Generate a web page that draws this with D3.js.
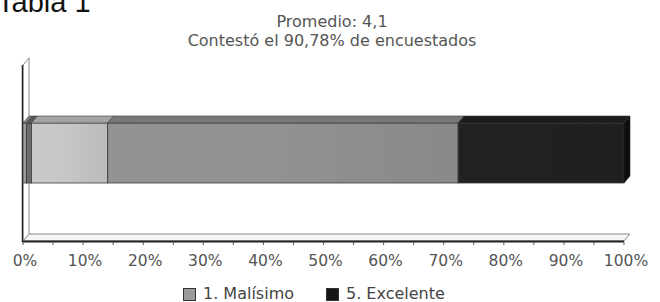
<!DOCTYPE html>
<html>
<head>
<meta charset="utf-8">
<script src="https://cdn.jsdelivr.net/npm/d3@7"></script>
<style>
    body { margin: 0; background: #fff; }
    svg { display: block; font-family: "DejaVu Sans", Verdana, sans-serif; }
</style>
</head>
<body>
<svg id="chart"></svg>
<script>
// --- data ---
const categories = ["1. Malísimo", "2. Malo", "3. Regular", "4. Bueno", "5. Excelente"];
const percents = [0.6, 0.8, 12.7, 58.3, 27.6];
const tickValues = [0, 10, 20, 30, 40, 50, 60, 70, 80, 90, 100];
const titleLines = ["Promedio: 4,1", "Contestó el 90,78% de encuestados"];
const legendItems = ["1. Malísimo", "5. Excelente"];
const heading = "Tabla 1";

class StackedBar3D {

    constructor( config, data ) {
        this.config = {
            parent: config.parent,
            width: config.width || 660,
            height: config.height || 302,
            depth: config.depth || {dx: 6, dy: -7}
        }
        this.data = data;
        this.init();
    }

    init() {
        let self = this;

        self.svg = d3.select( self.config.parent )
            .attr('width', self.config.width)
            .attr('height', self.config.height);

        self.xscale = d3.scaleLinear()
            .domain([0, 100])
            .range([23, 624]);

        self.yscale = d3.scaleBand()
            .domain(['bar'])
            .range([65, 241])
            .padding(0.4915);

        self.cscale = d3.scaleOrdinal()
            .domain(categories)
            .range(['#9a9a9a', '#6a6a6a', '#c3c3c3', '#8f8f8f', '#202020']);

        // soft shading across each segment face
        const defs = self.svg.append('defs');
        categories.forEach((c, i) => {
            const base = d3.color(self.cscale(c));
            const grad = defs.append('linearGradient')
                .attr('id', 'grad' + i)
                .attr('x1', '0%').attr('x2', '100%')
                .attr('y1', '0%').attr('y2', '0%');
            grad.append('stop').attr('offset', '0%').attr('stop-color', base.brighter(0.08));
            grad.append('stop').attr('offset', '45%').attr('stop-color', base.brighter(0.05));
            grad.append('stop').attr('offset', '100%').attr('stop-color', base.darker(0.12));
        });
    }

    render() {
        let self = this;
        const dx = self.config.depth.dx, dy = self.config.depth.dy;
        const x0 = self.xscale(0), x1 = self.xscale(100);
        const top = self.yscale.range()[0], floor = self.yscale.range()[1];

        // heading, cut at the top like in the source
        self.svg.append('text')
            .attr('x', -3)
            .attr('y', 12)
            .style('font-family', '"Liberation Sans", Arial, sans-serif')
            .style('font-size', '29px')
            .attr('fill', '#111')
            .text(heading);

        self.svg.selectAll('.title')
            .data(titleLines)
            .join('text')
            .attr('class', 'title')
            .attr('x', 332)
            .attr('y', (d, i) => 27 + i * 19)
            .attr('text-anchor', 'middle')
            .style('font-size', '16px')
            .attr('fill', '#555')
            .text(d => d);

        // floor
        const g = self.svg.append('g');
        g.append('path')
            .attr('d', `M${x0},${floor} L${x0 + dx},${floor + dy} L${x1 + dx},${floor + dy} L${x1},${floor} Z`)
            .attr('fill', '#f4f4f4')
            .attr('stroke', '#888');
        g.append('line')
            .attr('x1', x0 - 0.5).attr('x2', x1)
            .attr('y1', floor + 0.5).attr('y2', floor + 0.5)
            .attr('stroke', '#222').attr('stroke-width', 2);

        // left wall
        g.append('path')
            .attr('d', `M${x0},${floor} L${x0},${top} L${x0 + dx},${top + dy} L${x0 + dx},${floor + dy}`)
            .attr('fill', 'none')
            .attr('stroke', '#888');
        g.append('line')
            .attr('x1', x0 - 0.5).attr('x2', x0 - 0.5)
            .attr('y1', top).attr('y2', floor + 1)
            .attr('stroke', '#222').attr('stroke-width', 1.5);

        // ticks
        g.selectAll('.tick')
            .data(d3.range(0, 101, 5))
            .join('line')
            .attr('class', 'tick')
            .attr('x1', d => self.xscale(d)).attr('x2', d => self.xscale(d))
            .attr('y1', floor + 1).attr('y2', floor + 4)
            .attr('stroke', '#555');

        g.selectAll('.tlabel')
            .data(tickValues)
            .join('text')
            .attr('class', 'tlabel')
            .attr('x', d => self.xscale(d) + 2)
            .attr('y', 266)
            .attr('text-anchor', 'middle')
            .style('font-size', '15.5px')
            .attr('fill', '#555')
            .text(d => d + '%');

        // stacked segments
        let acc = 0;
        const segs = self.data.map((d, i) => {
            const s = {name: categories[i], idx: i, start: acc, end: acc + d};
            acc += d;
            return s;
        });
        const y = self.yscale('bar'), h = self.yscale.bandwidth();

        const bars = self.svg.append('g');
        bars.selectAll('.front')
            .data(segs)
            .join('rect')
            .attr('class', 'front')
            .attr('x', d => self.xscale(d.start))
            .attr('y', y)
            .attr('width', d => self.xscale(d.end) - self.xscale(d.start))
            .attr('height', h)
            .attr('fill', d => `url(#grad${d.idx})`)
            .attr('stroke', '#3a3a3a')
            .attr('stroke-width', 0.8);

        bars.selectAll('.topface')
            .data(segs)
            .join('path')
            .attr('class', 'topface')
            .attr('d', d => {
                const a = self.xscale(d.start), b = self.xscale(d.end);
                return `M${a},${y} L${a + dx},${y + dy} L${b + dx},${y + dy} L${b},${y} Z`;
            })
            .attr('fill', d => d3.color(self.cscale(d.name)).darker(0.5))
            .attr('stroke', '#3a3a3a')
            .attr('stroke-width', 0.6);

        const last = segs[segs.length - 1];
        const xe = self.xscale(last.end);
        bars.append('path')
            .attr('d', `M${xe},${y} L${xe + dx},${y + dy} L${xe + dx},${y + dy + h} L${xe},${y + h} Z`)
            .attr('fill', '#0d0d0d')
            .attr('stroke', '#222')
            .attr('stroke-width', 0.6);

        // legend
        const legendX = [183, 326];
        const legend = self.svg.selectAll('.legend')
            .data(legendItems)
            .join('g')
            .attr('class', 'legend')
            .attr('transform', (d, i) => `translate(${legendX[i]}, 288)`);
        legend.append('rect')
            .attr('x', 0.5).attr('y', 0.5)
            .attr('width', 12).attr('height', 12)
            .attr('fill', d => d3.color(self.cscale(d)).darker(d === '5. Excelente' ? 1 : 0))
            .attr('stroke', '#333');
        legend.append('text')
            .attr('x', 20)
            .attr('y', 11)
            .style('font-size', '16px')
            .attr('fill', '#444')
            .text(d => d);
    }
}

let chart = new StackedBar3D({ parent: '#chart', width: 660, height: 302 }, percents);
chart.render();
</script>
</body>
</html>
